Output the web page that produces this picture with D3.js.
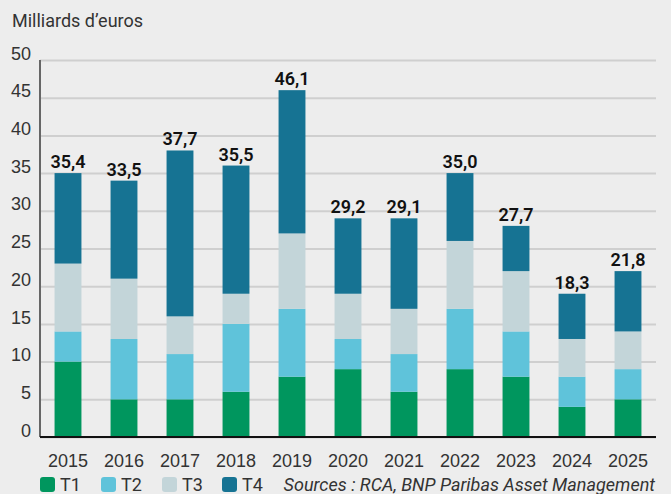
<!DOCTYPE html>
<html>
<head>
<meta charset="utf-8">
<script src="https://cdn.jsdelivr.net/npm/d3@7"></script>
<style>
  html, body { margin: 0; padding: 0; background: #ededed; }
  svg { display: block; font-family: Roboto, "Noto Sans", sans-serif; }
  .tick text { fill: #333; font-size: 18px; }
</style>
</head>
<body>
<div id="vis"></div>
<script>
// categories and values
var years = ['2015', '2016', '2017', '2018', '2019', '2020', '2021', '2022', '2023', '2024', '2025'];
var t1 = [10, 5, 5, 6, 8, 9, 6, 9, 8, 4, 5];
var t2 = [4, 8, 6, 9, 9, 4, 5, 8, 6, 4, 4];
var t3 = [9, 8, 5, 4, 10, 6, 6, 9, 8, 5, 5];
var t4 = [12, 13, 22, 17, 19, 10, 12, 9, 6, 6, 8];
var totals = [35.4, 33.5, 37.7, 35.5, 46.1, 29.2, 29.1, 35.0, 27.7, 18.3, 21.8];
var seriesNames = ['T1', 'T2', 'T3', 'T4'];
var yTicks = [0, 5, 10, 15, 20, 25, 30, 35, 40, 45, 50];

var colors = { T1: '#00965e', T2: '#5fc3da', T3: '#c3d5d9', T4: '#167393' };

// size of the picture and the plot area
var width = 671;
var height = 494;
var margin = { top: 60, left: 40, bottom: 57, right: 15 };
var innerW = width - margin.left - margin.right;
var innerH = height - margin.top - margin.bottom;

// one row per year, built from the arrays above
var rows = years.map(function (y, i) {
  return { year: y, T1: t1[i], T2: t2[i], T3: t3[i], T4: t4[i], total: totals[i] };
});
var stacked = d3.stack().keys(seriesNames)(rows);

var x = d3.scaleBand()
  .domain(years)
  .range([0, innerW])
  .paddingInner(0.52)
  .paddingOuter(0.26);

var y = d3.scaleLinear()
  .domain([0, 50])
  .range([innerH, 0]);

var svg = d3.select('#vis').append('svg')
  .attr('width', width)
  .attr('height', height);

svg.append('rect')
  .attr('width', width)
  .attr('height', height)
  .attr('fill', '#ededed');

// title
svg.append('text')
  .attr('x', 12)
  .attr('y', 27)
  .attr('fill', '#333')
  .style('font-size', '18px')
  .text('Milliards d\u2019euros');

var g = svg.append('g')
  .attr('transform', 'translate(' + margin.left + ',' + margin.top + ')');

// y axis with gridlines
var yAxis = d3.axisLeft(y)
  .tickValues(yTicks)
  .tickSize(-innerW)
  .tickPadding(9);

g.append('g')
  .attr('class', 'y axis')
  .call(yAxis)
  .call(function (a) { a.select('.domain').remove(); })
  .call(function (a) {
    a.selectAll('.tick line')
      .attr('stroke', '#cfcfcf')
      .attr('stroke-width', 2);
    a.selectAll('.tick text')
      .attr('dy', '-0.05em');
  });

// stacked bars
g.selectAll('.layer')
  .data(stacked)
  .enter().append('g')
  .attr('class', 'layer')
  .attr('fill', function (d) { return colors[d.key]; })
  .selectAll('rect')
  .data(function (d) { return d; })
  .enter().append('rect')
  .attr('x', function (d) { return x(d.data.year); })
  .attr('y', function (d) { return y(d[1]); })
  .attr('width', x.bandwidth())
  .attr('height', function (d) { return y(d[0]) - y(d[1]); });

// total labels above the bars
var fmt = d3.format('.1f');
g.selectAll('.bar-text')
  .data(rows)
  .enter().append('text')
  .attr('class', 'bar-text')
  .attr('x', function (d) { return x(d.year) + x.bandwidth() / 2; })
  .attr('y', function (d) { return y(d.T1 + d.T2 + d.T3 + d.T4) - 5; })
  .attr('text-anchor', 'middle')
  .attr('fill', '#111')
  .style('font-size', '18px')
  .style('font-weight', 600)
  .text(function (d) { return fmt(d.total).replace('.', ','); });

// x axis
var xAxis = d3.axisBottom(x)
  .tickSize(0)
  .tickPadding(17);

g.append('g')
  .attr('class', 'x axis')
  .attr('transform', 'translate(0,' + innerH + ')')
  .call(xAxis)
  .call(function (a) { a.select('.domain').remove(); });

// axis lines
g.append('line')
  .attr('x1', 0).attr('x2', 0)
  .attr('y1', 0).attr('y2', innerH)
  .attr('stroke', '#666')
  .attr('stroke-width', 2);

g.append('line')
  .attr('x1', 0).attr('x2', innerW)
  .attr('y1', innerH).attr('y2', innerH)
  .attr('stroke', '#111')
  .attr('stroke-width', 2);

// legend
var legendX = [40, 101, 162, 222];
var legend = svg.selectAll('.legend')
  .data(seriesNames)
  .enter().append('g')
  .attr('class', 'legend')
  .attr('transform', function (d, i) { return 'translate(' + legendX[i] + ',477)'; });

legend.append('rect')
  .attr('width', 15)
  .attr('height', 15)
  .attr('rx', 3)
  .attr('fill', function (d) { return colors[d]; });

legend.append('text')
  .attr('x', 20)
  .attr('y', 14)
  .attr('fill', '#333')
  .style('font-size', '18px')
  .text(function (d) { return d; });

svg.append('text')
  .attr('x', 655)
  .attr('y', 491)
  .attr('text-anchor', 'end')
  .attr('fill', '#333')
  .style('font-size', '18px')
  .style('font-style', 'italic')
  .text('Sources : RCA, BNP Paribas Asset Management');
</script>
</body>
</html>
